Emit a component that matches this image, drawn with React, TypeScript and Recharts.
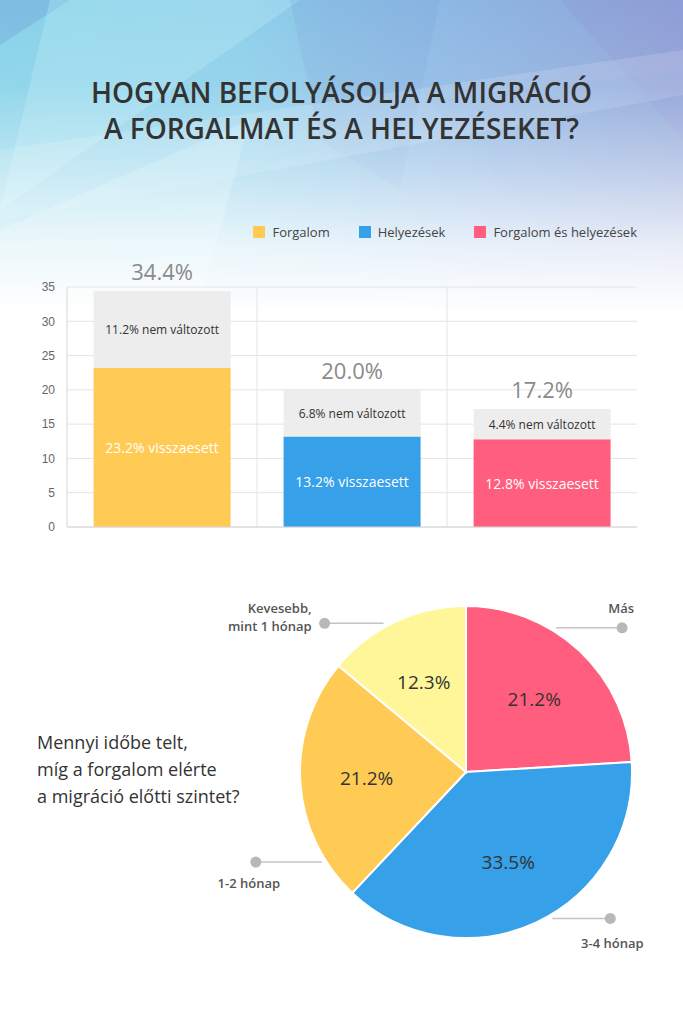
import React from 'react';
import {
	Bar,
	BarChart,
	CartesianGrid,
	Cell,
	LabelList,
	Pie,
	PieChart,
	XAxis,
	YAxis,
} from 'recharts';

// bar chart data
const categories = ['Forgalom', 'Helyezések', 'Forgalom és helyezések'];
const droppedValues = [23.2, 13.2, 12.8];
const unchangedValues = [11.2, 6.8, 4.4];
const totalValues = [34.4, 20.0, 17.2];
const yTicks = [0, 5, 10, 15, 20, 25, 30, 35];

// pie chart data
const pieNames = ['Más', '3-4 hónap', '1-2 hónap', 'Kevesebb, mint 1 hónap'];
const pieLabelLines = [['Más'], ['3-4 hónap'], ['1-2 hónap'], ['Kevesebb,', 'mint 1 hónap']];
const pieValues = [21.2, 33.5, 21.2, 12.3];

const barColors = ['#FFCB55', '#36A0E8', '#FF5E7E'];
const pieColors = ['#FF5E7E', '#36A0E8', '#FFCB55', '#FFF69A'];
const FONT = '"Open Sans", "Noto Sans", sans-serif';

const barData = categories.map((name, i) => ({
	name,
	dropped: droppedValues[i],
	unchanged: unchangedValues[i],
	total: totalValues[i],
}));

const pieData = pieNames.map((name, i) => ({ name, value: pieValues[i] }));

// where each callout leaves the pie and how its text sits next to the dot
const callouts = [
	{ angle: 58, side: 1, len: 66, anchor: 'end', tx: 12, ty: [-15] },
	{ angle: -59.5, side: 1, len: 58, anchor: 'middle', tx: 2, ty: [30] },
	{ angle: 212, side: -1, len: 66, anchor: 'middle', tx: -7, ty: [26] },
	{ angle: 119, side: -1, len: 59, anchor: 'end', tx: -13, ty: [-10, 8] },
];

const RAD = Math.PI / 180;

function box(p: any) {
	const vb = p.viewBox && p.viewBox.width != null ? p.viewBox : p;
	return { x: Number(vb.x), y: Number(vb.y), width: Number(vb.width), height: Number(vb.height) };
}

const centerLabel = (fill: string, fontSize: number, suffix: string) => (p: any) => {
	const { x, y, width, height } = box(p);
	return (
		<text x={x + width / 2} y={y + height / 2} fill={fill} fontSize={fontSize} textAnchor='middle' dominantBaseline='central' style={{ fontFamily: FONT }}>
			{`${Number(p.value).toFixed(1)}${suffix}`}
		</text>
	);
};

const topLabel = (p: any) => {
	const { x, y, width } = box(p);
	return (
		<text x={x + width / 2} y={y - 11} fill='#8a8a8a' fontSize={22} textAnchor='middle' style={{ fontFamily: FONT }}>
			{`${Number(p.value).toFixed(1)}%`}
		</text>
	);
};

function renderPieLabel(props: any) {
	const { cx, cy, midAngle, outerRadius, index, value } = props;
	const r = outerRadius * 0.6;
	const px = cx + r * Math.cos(-midAngle * RAD);
	const py = cy + r * Math.sin(-midAngle * RAD);
	const c = callouts[index];
	const sx = cx + (outerRadius + 4) * Math.cos(c.angle * RAD);
	const sy = cy - (outerRadius + 4) * Math.sin(c.angle * RAD);
	const ex = sx + c.side * c.len;
	return (
		<g>
			<text x={px} y={py} textAnchor='middle' dominantBaseline='central' fill='#333' fontSize={19} style={{ fontFamily: FONT }}>
				{`${value.toFixed(1)}%`}
			</text>
			<line x1={sx} y1={sy} x2={ex} y2={sy} stroke='#c4c4c4' strokeWidth={1.5} />
			<circle cx={ex} cy={sy} r={5.5} fill='#b8b8b8' />
			{pieLabelLines[index].map((t, k) => (
				<text key={k} x={ex + c.tx} y={sy + c.ty[k]} textAnchor={c.anchor} fill='#555' fontSize={13} fontWeight={600} style={{ fontFamily: FONT }}>
					{t}
				</text>
			))}
		</g>
	);
}

function LegendBox() {
	return (
		<div
			style={{
				position: 'absolute',
				top: 223,
				left: 0,
				width: 683,
				boxSizing: 'border-box',
				display: 'flex',
				justifyContent: 'flex-end',
				paddingRight: 46,
				fontFamily: FONT,
				fontSize: 13,
				lineHeight: '18px',
				color: '#444',
			}}
		>
			{categories.map((name, i) => (
				<div key={name} style={{ display: 'flex', alignItems: 'center', marginLeft: i === 0 ? 0 : 29 }}>
					<span style={{ width: 12, height: 12, background: barColors[i], display: 'inline-block', marginRight: 7 }} />
					<span>{name}</span>
				</div>
			))}
		</div>
	);
}

function Background() {
	return (
		<svg width={683} height={340} style={{ position: 'absolute', left: 0, top: 0 }}>
			<defs>
				<linearGradient id='bgH' x1='0' y1='0' x2='1' y2='0'>
					<stop offset='0' stopColor='#86d2e8' />
					<stop offset='0.35' stopColor='#8ccfea' />
					<stop offset='0.65' stopColor='#8db8e4' />
					<stop offset='1' stopColor='#8fa3d8' />
				</linearGradient>
				<linearGradient id='fade' x1='0' y1='0' x2='0' y2='1'>
					<stop offset='0' stopColor='#fff' stopOpacity='0' />
					<stop offset='0.25' stopColor='#fff' stopOpacity='0.1' />
					<stop offset='0.5' stopColor='#fff' stopOpacity='0.45' />
					<stop offset='0.72' stopColor='#fff' stopOpacity='0.8' />
					<stop offset='0.92' stopColor='#fff' stopOpacity='1' />
					<stop offset='1' stopColor='#fff' stopOpacity='1' />
				</linearGradient>
			</defs>
			<rect width={683} height={340} fill='url(#bgH)' />
			<polygon points='0,0 70,0 0,45' fill='#6f9fd8' opacity={0.4} />
			<polygon points='50,0 300,0 0,210' fill='#bff0f8' opacity={0.3} />
			<polygon points='290,0 440,0 400,190 320,140' fill='#6a8fd0' opacity={0.15} />
			<polygon points='560,0 683,0 683,140' fill='#8a7fc8' opacity={0.13} />
			<polygon points='0,150 683,50 683,95 0,220' fill='#ffffff' opacity={0.14} />
			<polygon points='430,100 683,70 683,230 560,250' fill='#7aa3da' opacity={0.1} />
			<polygon points='0,230 250,120 190,340 0,340' fill='#c4ebf6' opacity={0.4} />
			<rect width={683} height={340} fill='url(#fade)' />
		</svg>
	);
}

export default function App() {
	return (
		<div style={{ position: 'absolute', left: 0, top: 0, width: 683, height: 1024, background: '#fff', overflow: 'hidden' }}>
			<Background />
			<div
				style={{
					position: 'absolute',
					top: 74,
					left: 0,
					width: 683,
					textAlign: 'center',
					fontFamily: FONT,
					fontWeight: 600,
					fontSize: 28,
					lineHeight: '36px',
					color: '#333',
				}}
			>
				HOGYAN BEFOLYÁSOLJA A MIGRÁCIÓ
				<br />A FORGALMAT ÉS A HELYEZÉSEKET?
			</div>

			<LegendBox />

			<div style={{ position: 'absolute', left: 0, top: 200 }}>
				<BarChart width={683} height={350} data={barData} margin={{ top: 87, right: 46, bottom: 0, left: 0 }} barCategoryGap='14%'>
					<CartesianGrid
						stroke='#e4e4e4'
						verticalCoordinatesGenerator={({ offset }: any) => [0, 1, 2].map((i) => offset.left + (offset.width * i) / 3)}
					/>
					<XAxis dataKey='name' tick={false} tickLine={false} axisLine={{ stroke: '#d6d6d6' }} height={23} />
					<YAxis
						domain={[0, 35]}
						ticks={yTicks}
						interval={0}
						width={67}
						tickLine={false}
						tickMargin={6}
						axisLine={{ stroke: '#e4e4e4' }}
						tick={{ fill: '#666', fontSize: 12, fontFamily: '"Liberation Sans", Arial, sans-serif' }}
					/>
					<Bar dataKey='dropped' stackId='a' isAnimationActive={false}>
						{barData.map((d, i) => (
							<Cell key={d.name} fill={barColors[i]} />
						))}
						<LabelList dataKey='dropped' content={centerLabel('#fff', 14, '% visszaesett')} />
					</Bar>
					<Bar dataKey='unchanged' stackId='a' fill='#EDEDED' isAnimationActive={false}>
						<LabelList dataKey='unchanged' content={centerLabel('#333', 12, '% nem változott')} />
						<LabelList dataKey='total' content={topLabel} />
					</Bar>
				</BarChart>
			</div>

			<div
				style={{
					position: 'absolute',
					left: 37,
					top: 729,
					fontFamily: FONT,
					fontSize: 18,
					lineHeight: '27px',
					color: '#333',
				}}
			>
				Mennyi időbe telt,
				<br />
				míg a forgalom elérte
				<br />a migráció előtti szintet?
			</div>

			<div style={{ position: 'absolute', left: 0, top: 560 }}>
				<PieChart width={683} height={420} margin={{ top: 0, right: 0, bottom: 0, left: 0 }}>
					<Pie
						data={pieData}
						dataKey='value'
						nameKey='name'
						cx={466}
						cy={212}
						outerRadius={166}
						startAngle={90}
						endAngle={-270}
						stroke='#fff'
						strokeWidth={2}
						label={renderPieLabel}
						labelLine={false}
						isAnimationActive={false}
					>
						{pieData.map((d, i) => (
							<Cell key={d.name} fill={pieColors[i]} />
						))}
					</Pie>
				</PieChart>
			</div>
		</div>
	);
}
